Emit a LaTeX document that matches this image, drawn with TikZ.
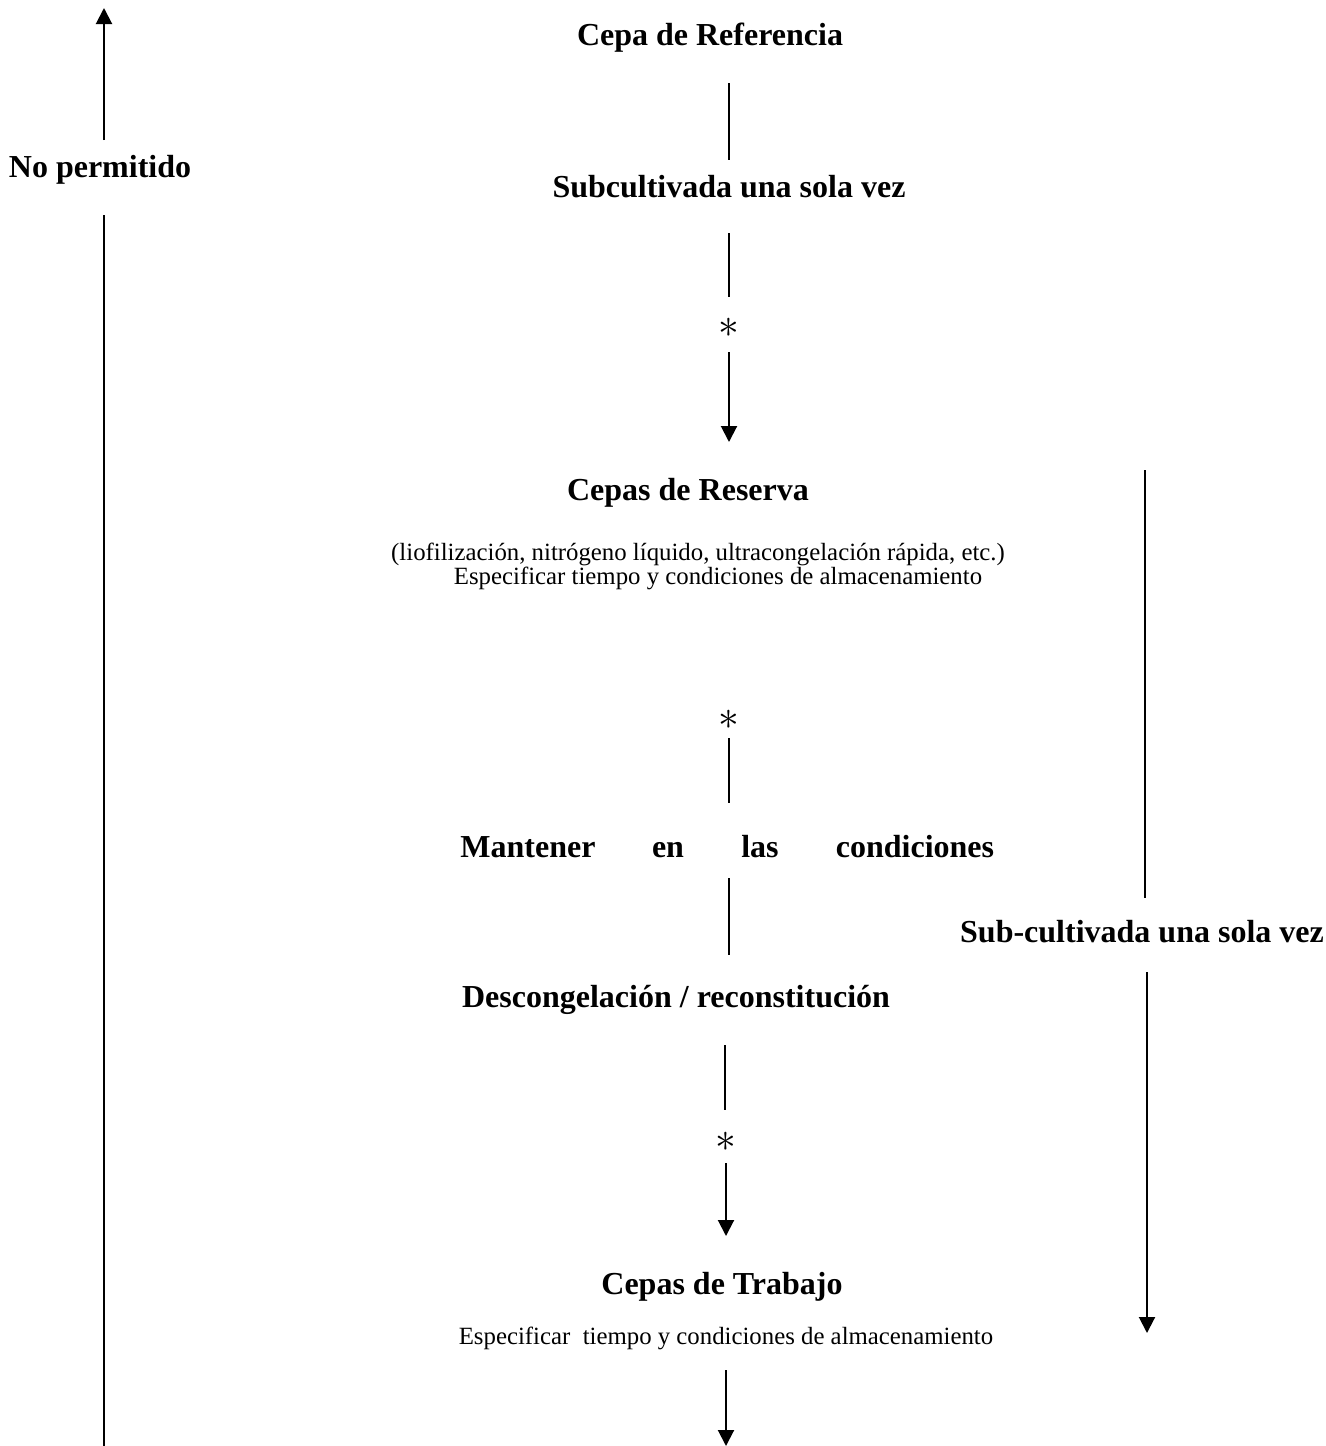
\documentclass[tikz,border=0pt]{standalone}
\usepackage{fontspec}
\setmainfont{Liberation Serif}
\usepackage{tikz}
\usetikzlibrary{arrows.meta,positioning,calc}
\tikzset{
  etapa/.style={inner sep=0pt, text height=11pt, text depth=3.5pt, font=\fontsize{16}{18}\selectfont\bfseries},
  nota/.style={inner sep=0pt, font=\fontsize{12.4}{14}\selectfont},
  marca/.style={inner sep=0pt, font=\fontsize{20}{22}\selectfont},
  linea/.style={line width=1pt},
  flecha/.style={line width=1pt, -{Triangle[width=8pt,length=8pt]}},
}
\begin{document}
\begin{tikzpicture}[x=0.5pt,y=-0.5pt]
  \useasboundingbox (0,0) rectangle (1326,1446);
  % columna izquierda
  \node[etapa] (nop) at (100,170) {No permitido};
  \coordinate (izqA) at (104,140);
  \coordinate (izqB) at (104,8);
  \coordinate (izqC) at (104,215);
  \coordinate (izqD) at (104,1446);
  \draw[flecha] (izqA) -- (izqB);
  \draw[linea] (izqC) -- (izqD);
  % columna central
  \node[etapa] (ref) at (710,38) {Cepa de Referencia};
  \node[etapa] (sub) at (729,190) {Subcultivada una sola vez};
  \node[marca] (ast1) at (729,328) {$\ast$};
  \node[etapa] (res) at (688,493) {Cepas de Reserva};
  \node[nota] (resA) at (698,554) {(liofilización, nitrógeno líquido, ultracongelación rápida, etc.)};
  \node[nota] (resB) at (718,578) {Especificar tiempo y condiciones de almacenamiento};
  \node[marca] (ast2) at (729,720) {$\ast$};
  \node[etapa] (m1) at (528,850) {Mantener};
  \node[etapa] (m2) at (668,850) {en};
  \node[etapa] (m3) at (760,850) {las};
  \node[etapa] (m4) at (915,850) {condiciones};
  \node[etapa] (des) at (676,1000) {Descongelación / reconstitución};
  \node[marca] (ast3) at (726,1142) {$\ast$};
  \node[etapa] (tra) at (722,1287) {Cepas de Trabajo};
  \node[nota] (traA) at (726,1338) {Especificar\ \ tiempo y condiciones de almacenamiento};
  \foreach \n/\ya/\yb in {c1/83/160, c2/233/297, c3/738/803, c4/878/955} {
    \coordinate (\n a) at (729,\ya);
    \coordinate (\n b) at (729,\yb);
    \draw[linea] (\n a) -- (\n b);
  }
  \coordinate (c5a) at (725,1045);
  \coordinate (c5b) at (725,1110);
  \draw[linea] (c5a) -- (c5b);
  \coordinate (f1a) at (729,352);
  \coordinate (f1b) at (729,442);
  \coordinate (f2a) at (726,1163);
  \coordinate (f2b) at (726,1236);
  \coordinate (f3a) at (726,1370);
  \coordinate (f3b) at (726,1446);
  \draw[flecha] (f1a) -- (f1b);
  \draw[flecha] (f2a) -- (f2b);
  \draw[flecha] (f3a) -- (f3b);
  % columna derecha
  \node[etapa] (subd) at (1142,935) {Sub-cultivada una sola vez};
  \coordinate (derA) at (1145,470);
  \coordinate (derB) at (1145,898);
  \coordinate (derC) at (1147,972);
  \coordinate (derD) at (1147,1333);
  \draw[linea] (derA) -- (derB);
  \draw[flecha] (derC) -- (derD);
\end{tikzpicture}
\end{document}
